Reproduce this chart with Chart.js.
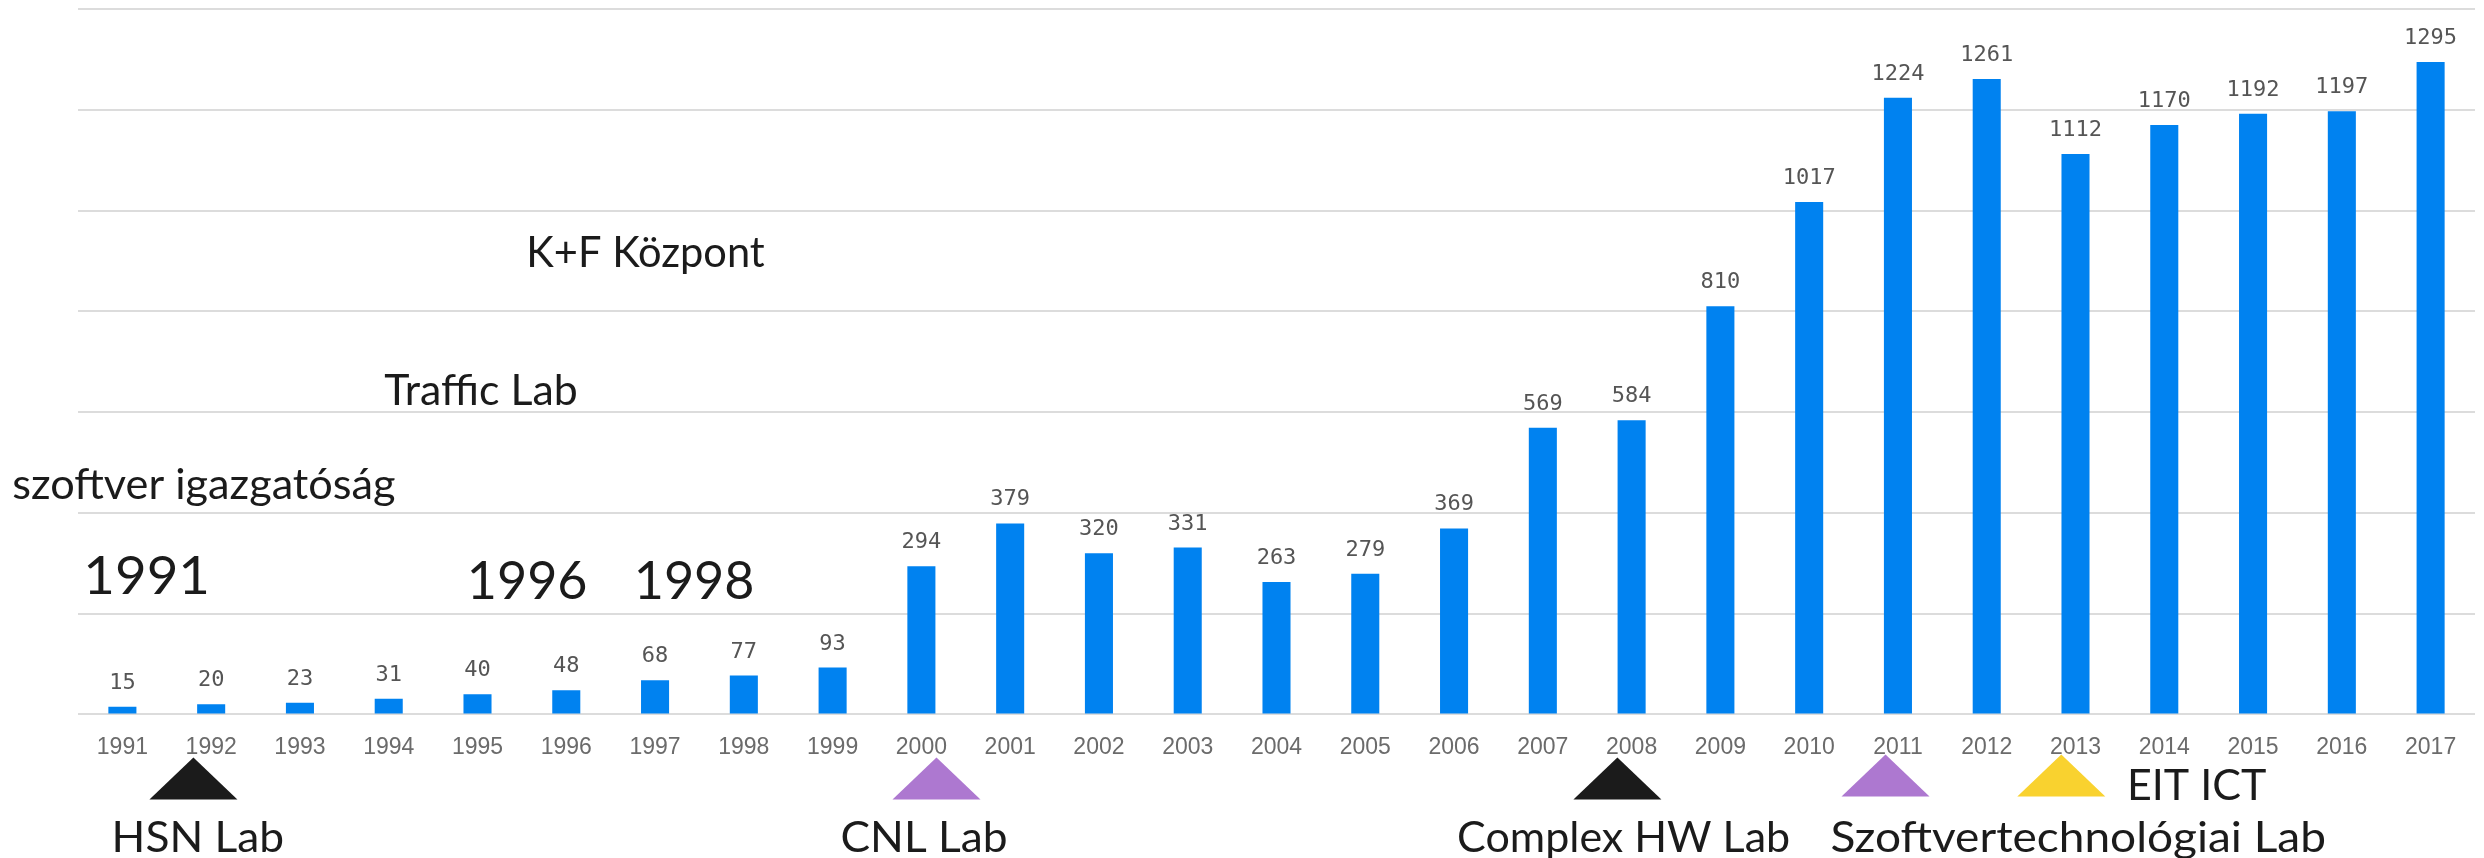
<!DOCTYPE html>
<html>
<head>
<meta charset="utf-8">
<script src="https://cdn.jsdelivr.net/npm/chart.js@4/dist/chart.umd.min.js"></script>
<style>
  html, body { margin: 0; padding: 0; background: #fff; }
  #wrap { width: 2484px; height: 858px; }
</style>
</head>
<body>
<div id="wrap"><canvas id="chart" width="2484" height="858"></canvas></div>
<script>
// headcount per year
const years = ["1991","1992","1993","1994","1995","1996","1997","1998","1999","2000","2001","2002","2003","2004",
  "2005","2006","2007","2008","2009","2010","2011","2012","2013","2014","2015","2016","2017"];
const headcount = [15,20,23,31,40,48,68,77,93,294,379,320,331,263,279,369,569,584,810,1017,1224,1261,1112,1170,1192,1197,1295];
const yMin = 0, yMax = 1400, yStep = 200;

// milestone triangles under the axis
const markerYears = ["1992","2000","2008","2011","2013"];
const markerColors = ["#1b1b1b","#ad78d0","#1b1b1b","#ad78d0","#f9d22f"];
const labLabels = ["HSN Lab","CNL Lab","Complex HW Lab","Szoftvertechnológiai Lab"];
const sideLabel = "EIT ICT";

// free text inside the plot: text, category slot, value
const noteTexts = ["K+F Központ","Traffic Lab","szoftver igazgatóság","1991","1996","1998"];
const noteSlots = [4.55, 2.95, -1.24, -0.44, 3.88, 5.76];
const noteValues = [888, 614, 428, 238, 230, 230];

const BLUE = "#0082f0";
const TXT = "'Lato', 'Open Sans', sans-serif";

function txt(ctx, s, x, y, font, color, align, sx) {
  ctx.save();
  ctx.font = font;
  ctx.fillStyle = color;
  ctx.textAlign = align;
  ctx.textBaseline = "alphabetic";
  ctx.translate(x, y);
  ctx.scale(sx || 1, 1);
  ctx.fillText(s, 0, 0);
  ctx.restore();
}

const decor = {
  id: "decor",
  afterDatasetsDraw(chart) {
    const ctx = chart.ctx, xs = chart.scales.x, ys = chart.scales.y;
    const bottom = chart.chartArea.bottom;
    // value labels
    const meta = chart.getDatasetMeta(0);
    meta.data.forEach((bar, i) => {
      txt(ctx, String(headcount[i]), bar.x, bar.y - 18, "22px 'DejaVu Sans Mono', monospace", "#555555", "center");
    });
    // triangles
    const shift = [-0.2, 0.17, -0.16, -0.14, -0.16];
    const top = [43, 43, 43, 40, 40];
    markerYears.forEach((y, i) => {
      const cx = xs.getPixelForValue(years.indexOf(y) + shift[i]);
      const ty = bottom + top[i];
      ctx.save();
      ctx.fillStyle = markerColors[i];
      ctx.beginPath();
      ctx.moveTo(cx, ty);
      ctx.lineTo(cx + 44, ty + 42);
      ctx.lineTo(cx - 44, ty + 42);
      ctx.closePath();
      ctx.fill();
      ctx.restore();
    });
    // lab names
    const labAt = [0.85, 9.03, 16.91, 22.03];
    const labSx = [1.03, 1.03, 1.0, 1.07];
    labLabels.forEach((s, i) => {
      txt(ctx, s, xs.getPixelForValue(labAt[i]), bottom + 138, "43px " + TXT, "#1b1b1b", "center", labSx[i]);
    });
    txt(ctx, sideLabel, xs.getPixelForValue(22.58), bottom + 86, "43px " + TXT, "#1b1b1b", "left", 1.0);
    // notes in the plot
    const noteSx = [0.99, 1.02, 1.03, 1.05, 1.0, 1.0];
    noteTexts.forEach((s, i) => {
      const big = i >= 3;
      txt(ctx, s, xs.getPixelForValue(noteSlots[i]), ys.getPixelForValue(noteValues[i]),
        (big ? "52px " : "42px ") + TXT, "#1b1b1b", "left", noteSx[i]);
    });
  }
};

new Chart(document.getElementById("chart"), {
  type: "bar",
  data: {
    labels: years,
    datasets: [{
      data: headcount,
      backgroundColor: BLUE,
      borderWidth: 0,
      categoryPercentage: 1,
      barPercentage: 0.316
    }]
  },
  options: {
    responsive: false,
    animation: false,
    layout: { padding: { left: 78, right: 9, top: 9, bottom: 86 } },
    plugins: { legend: { display: false }, tooltip: { enabled: false } },
    scales: {
      x: {
        grid: { display: false },
        border: { display: false },
        ticks: { color: "#6b6b6b", font: { family: "'Liberation Sans', Arial, sans-serif", size: 23 }, padding: 11, maxRotation: 0, autoSkip: false }
      },
      y: {
        min: yMin, max: yMax,
        grid: { color: "#dcdcdc", lineWidth: 2, drawTicks: false },
        border: { display: false },
        ticks: { display: false, stepSize: yStep }
      }
    }
  },
  plugins: [decor]
});
</script>
</body>
</html>
